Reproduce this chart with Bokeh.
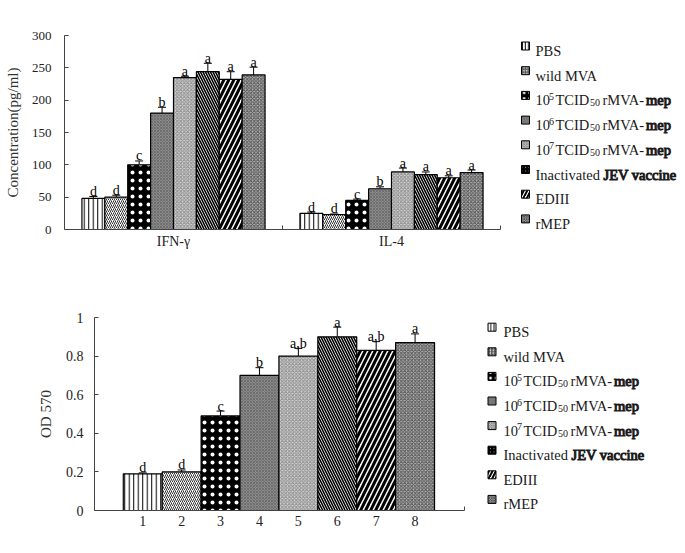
import numpy as np
from bokeh.plotting import figure
from bokeh.layouts import column, row
from bokeh.models import ColumnDataSource, Range1d, FixedTicker, Whisker, TeeHead, Label
from bokeh.embed import file_html
from bokeh.resources import INLINE
from bokeh.core.properties import value

FONT = "Liberation Serif"

# ---------------- data ----------------
groups = ["PBS", "wild MVA", "10^5 TCID50 rMVA-mep", "10^6 TCID50 rMVA-mep",
          "10^7 TCID50 rMVA-mep", "Inactivated JEV vaccine", "EDIII", "rMEP"]

cytokines = ["IFN-γ", "IL-4"]
ifn_mean = [48, 50, 100, 180, 235, 244, 232, 239]
ifn_err = [3, 3, 6, 9, 2, 13, 12, 12]
ifn_sig = ["d", "d", "c", "b", "a", "a", "a", "a"]
il4_mean = [25, 23, 45, 63, 89, 85, 80, 88]
il4_err = [2, 1, 2, 3, 6, 4, 3, 4]
il4_sig = ["d", "d", "c", "b", "a", "a", "a", "a"]

od_labels = ["1", "2", "3", "4", "5", "6", "7", "8"]
od_mean = [0.19, 0.20, 0.49, 0.70, 0.80, 0.90, 0.83, 0.87]
od_err = [0.005, 0.01, 0.025, 0.04, 0.04, 0.05, 0.045, 0.045]
od_sig = ["d", "d", "c", "b", "a,b", "a", "a,b", "a"]

conc_ticks = [0, 50, 100, 150, 200, 250, 300]
od_ticks = [0, 0.2, 0.4, 0.6, 0.8, 1.0]

# legend rendering pieces: (text, kind, x offset in px)
legend_parts = [
    [("PBS", "n", 0)],
    [("wild MVA", "n", 0)],
    [("10", "n", 0), ("5", "sup", 13.5), ("TCID", "n", 20), ("50", "sub", 54.5), ("rMVA-", "n", 67), ("mep", "b", 110.5)],
    [("10", "n", 0), ("6", "sup", 13.5), ("TCID", "n", 20), ("50", "sub", 54.5), ("rMVA-", "n", 67), ("mep", "b", 110.5)],
    [("10", "n", 0), ("7", "sup", 13.5), ("TCID", "n", 20), ("50", "sub", 54.5), ("rMVA-", "n", 67), ("mep", "b", 110.5)],
    [("Inactivated", "n", 0), ("JEV vaccine", "b", 68)],
    [("EDIII", "n", 0)],
    [("rMEP", "n", 0)],
]

STYLES = [
    dict(fill_color="white", hatch_pattern="vertical_line", hatch_color="black", hatch_scale=4.5, hatch_weight=1),
    dict(fill_color="white", hatch_pattern="right_diagonal_line", hatch_color="#333333", hatch_scale=4, hatch_weight=1),
    dict(fill_color="black", hatch_pattern="dot", hatch_color="white", hatch_scale=8, hatch_weight=0.6),
    dict(fill_color="#8a8a8a", hatch_pattern="diagonal_cross", hatch_color="#6e6e6e", hatch_scale=3, hatch_weight=1),
    dict(fill_color="#d4d4d4", hatch_pattern="diagonal_cross", hatch_color="#8a8a8a", hatch_scale=3.5, hatch_weight=1),
    dict(fill_color="white", hatch_pattern="left_diagonal_line", hatch_color="black", hatch_scale=5, hatch_weight=1.6),
    dict(fill_color="white", hatch_pattern="right_diagonal_line", hatch_color="black", hatch_scale=10, hatch_weight=3),
    dict(fill_color="#b4b4b4", hatch_pattern="diagonal_cross", hatch_color="#505050", hatch_scale=3.5, hatch_weight=1),
]

W = 685
TOP_H, BOT_H = 274, 278


def style_axes(p, size):
    for ax in (p.xaxis[0], p.yaxis[0]):
        ax.axis_line_color = "#444444"
        ax.axis_line_width = 1
        ax.major_tick_line_color = "#444444"
        ax.minor_tick_line_color = "#444444"
        ax.major_label_text_font = FONT
        ax.major_label_text_font_size = size
        ax.major_label_text_color = "#222222"
        ax.axis_label_text_font = FONT
        ax.axis_label_text_font_style = "normal"
        ax.axis_label_text_font_size = "15px"
        ax.axis_label_text_color = "#333333"
    p.xgrid.visible = False
    p.ygrid.visible = False
    p.outline_line_color = None


def draw_legend(p, to_x, to_y, sw_px, txt_px, y0, dy):
    for i, parts in enumerate(legend_parts):
        yc = y0 + i * dy
        st = dict(STYLES[i])
        st["hatch_scale"] = max(2.5, st["hatch_scale"] * 0.7)
        st["hatch_weight"] = min(st["hatch_weight"], 2)
        p.rect(x=[to_x(sw_px)], y=[to_y(yc)], width=8, height=8, width_units="screen",
               height_units="screen", line_color="black", line_width=1, **st)
        base = yc + 5
        for txt, kind, dx in parts:
            extra = {}
            if kind == "sup":
                size, yy = "10px", base - 4
            elif kind == "sub":
                size, yy = "10px", base + 2.5
            elif kind == "b":
                size, yy = "14.5px", base
                extra = dict(text_outline_color="#1a1a1a")
            else:
                size, yy = "14.5px", base
            p.text(x=[to_x(txt_px)], y=[to_y(yy)], text=[txt], x_offset=dx,
                   text_font=value(FONT), text_font_size=size, text_baseline="alphabetic",
                   text_align="left", text_color="#1a1a1a", **extra)


# ---------------- panel A ----------------
FL1, FX1, FT1, FB1 = 64, 500, 35, 229       # frame left, axis end, frame top, frame bottom (px)
PPU1 = (FX1 - FL1) / 2.0
BAR_W = 0.105
p1 = figure(width=W, height=TOP_H, x_range=Range1d(0, (W - FL1) / PPU1), y_range=Range1d(0, 300),
            output_backend="svg", toolbar_location=None,
            min_border_left=FL1, min_border_right=0, min_border_top=FT1, min_border_bottom=TOP_H - FB1)
style_axes(p1, "13px")
centers = np.arange(len(cytokines)) + 0.5
for i in range(len(groups)):
    xs = centers + (i - 3.5) * BAR_W
    p1.vbar(x=xs, top=[ifn_mean[i], il4_mean[i]], width=BAR_W, bottom=0,
            line_color="black", line_width=1.2, **STYLES[i])

xs_all, lo, hi, sig = [], [], [], []
for c, (m, e, s) in enumerate([(ifn_mean, ifn_err, ifn_sig), (il4_mean, il4_err, il4_sig)]):
    for i in range(len(groups)):
        xs_all.append(centers[c] + (i - 3.5) * BAR_W)
        lo.append(m[i]); hi.append(m[i] + e[i]); sig.append(s[i])
src1 = ColumnDataSource(dict(x=xs_all, lower=lo, upper=hi, sig=sig))
p1.add_layout(Whisker(base="x", lower="lower", upper="upper", source=src1, line_color="black",
                      line_width=1, upper_head=TeeHead(size=8, line_color="black", line_width=1),
                      lower_head=None))
p1.text(x="x", y="upper", text="sig", source=src1, text_align="center", text_baseline="alphabetic",
        y_offset=-5, text_font=value(FONT), text_font_size="14px", text_color="black")

p1.xaxis.bounds = (0, 2)
p1.xaxis.ticker = FixedTicker(ticks=[float(c) for c in centers], minor_ticks=[1.0, 1.999])
p1.xaxis.major_label_overrides = {float(c): n for c, n in zip(centers, cytokines)}
p1.xaxis.major_label_text_font_size = "14px"
p1.xaxis.major_tick_line_color = None
p1.xaxis.major_tick_in = 0
p1.xaxis.major_tick_out = 0
p1.xaxis.minor_tick_in = 4
p1.xaxis.minor_tick_out = 0
p1.xaxis.major_label_standoff = 4
p1.yaxis.ticker = FixedTicker(ticks=conc_ticks)
p1.yaxis.major_tick_in = 4
p1.yaxis.major_tick_out = 0
p1.yaxis.minor_tick_line_color = None
p1.yaxis.major_label_standoff = 13
p1.yaxis.axis_label = "Concentration(pg/ml)"
p1.yaxis.axis_label_standoff = 8


def x1(px):
    return (px - FL1) / PPU1


def y1(py):
    return (FB1 - py) * 300.0 / (FB1 - FT1)


p1.add_layout(Label(x=x1(278), y=y1(261), text="A", text_font=FONT, text_font_size="15px",
                    text_align="center", text_baseline="middle", text_color="#222222"))
draw_legend(p1, x1, y1, 525, 535, 45.5, 24.7)

# ---------------- panel B ----------------
FL2, FX2, FT2, FB2 = 94, 464, 43, 236       # in panel-B canvas pixels
X0, X1 = -0.24, 9.27
PPU2 = (FX2 - FL2) / (X1 - X0)
p2 = figure(width=W, height=BOT_H, x_range=Range1d(X0, X0 + (W - FL2) / PPU2), y_range=Range1d(0, 1),
            output_backend="svg", toolbar_location=None,
            min_border_left=FL2, min_border_right=0, min_border_top=FT2, min_border_bottom=BOT_H - FB2)
style_axes(p2, "14px")
od_x = [float(v) for v in od_labels]
for i in range(len(groups)):
    p2.vbar(x=[od_x[i]], top=[od_mean[i]], width=1.0, bottom=0,
            line_color="black", line_width=1.2, **STYLES[i])
src2 = ColumnDataSource(dict(x=od_x, lower=od_mean, upper=[m + e for m, e in zip(od_mean, od_err)], sig=od_sig))
p2.add_layout(Whisker(base="x", lower="lower", upper="upper", source=src2, line_color="black",
                      line_width=1, upper_head=TeeHead(size=8, line_color="black", line_width=1),
                      lower_head=None))
p2.text(x="x", y="upper", text="sig", source=src2, text_align="center", text_baseline="alphabetic",
        y_offset=-5, text_font=value(FONT), text_font_size="14px", text_color="black")

p2.xaxis.bounds = (X0, X1)
p2.xaxis.ticker = FixedTicker(ticks=od_x, minor_ticks=[X1 - 0.01])
p2.xaxis.major_label_overrides = {x: l for x, l in zip(od_x, od_labels)}
p2.xaxis.major_tick_line_color = None
p2.xaxis.major_tick_in = 0
p2.xaxis.major_tick_out = 0
p2.xaxis.minor_tick_in = 4
p2.xaxis.minor_tick_out = 0
p2.xaxis.major_label_standoff = 5
p2.yaxis.ticker = FixedTicker(ticks=od_ticks)
p2.yaxis.major_label_overrides = {0: "0", 0.2: "0.2", 0.4: "0.4", 0.6: "0.6", 0.8: "0.8", 1: "1"}
p2.yaxis.major_tick_in = 4
p2.yaxis.major_tick_out = 0
p2.yaxis.minor_tick_line_color = None
p2.yaxis.major_label_standoff = 11
p2.yaxis.axis_label = "OD 570"
p2.yaxis.axis_label_standoff = 9


def x2(px):
    return X0 + (px - FL2) / PPU2


def y2(py):
    return (FB2 - (py - TOP_H)) / (FB2 - FT2)


p2.add_layout(Label(x=x2(267), y=y2(540), text="B", text_font=FONT, text_font_size="15px",
                    text_align="center", text_baseline="middle", text_color="#222222"))
draw_legend(p2, x2, y2, 491.5, 503, 326.7, 24.6)

layout = column(row(p1), row(p2))
open("out.html", "w").write(file_html(layout, INLINE))
